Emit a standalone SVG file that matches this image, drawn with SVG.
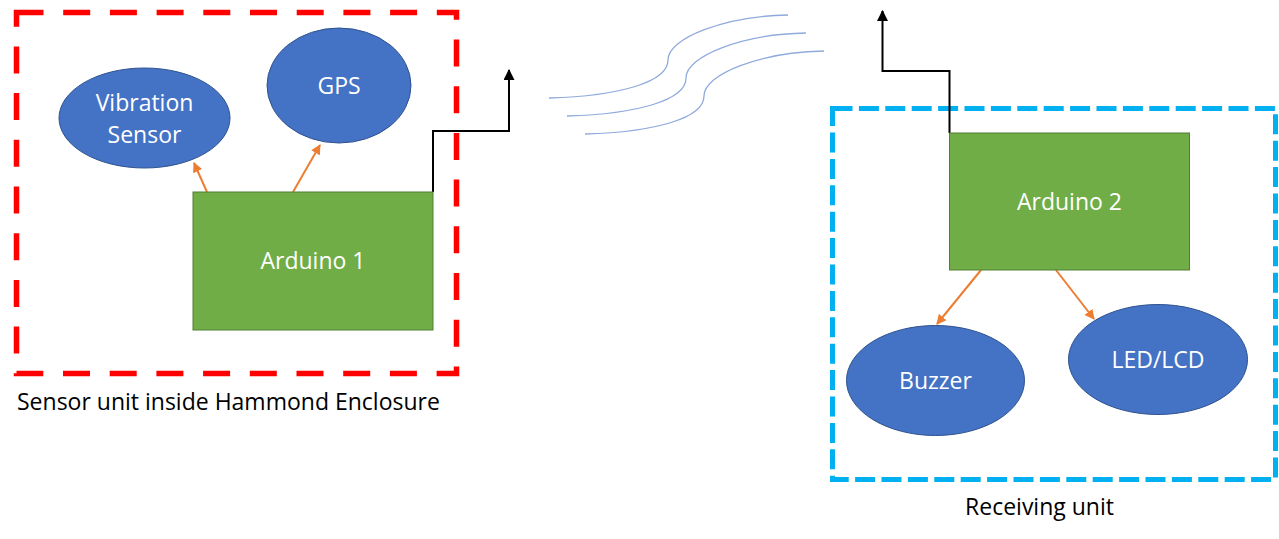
<svg xmlns="http://www.w3.org/2000/svg" width="1279" height="539" viewBox="0 0 1279 539">
<defs>
<style>
.lbl{font-family:"Open Sans","Liberation Sans",sans-serif;font-size:23px;fill:#ffffff;text-anchor:middle}
.cap{font-family:"Open Sans","Liberation Sans",sans-serif;font-size:23px;fill:#000000}
.ell{fill:#4472c4;stroke:#2f528f;stroke-width:1}
.box{fill:#70ad47;stroke:#507e32;stroke-width:1}
.orange{fill:none;stroke:#ed7d31;stroke-width:2}
.black{fill:none;stroke:#000000;stroke-width:2}
.wave{fill:none;stroke:#8faadc;stroke-width:1.3}
</style>
<marker id="ao" viewBox="0 0 10 10" refX="9" refY="5" markerWidth="5" markerHeight="5" orient="auto" markerUnits="strokeWidth">
<path d="M0,0 L10,5 L0,10 z" fill="#ed7d31"/>
</marker>
<marker id="ab" viewBox="0 0 10 10" refX="9" refY="5" markerWidth="5.5" markerHeight="5.5" orient="auto" markerUnits="strokeWidth">
<path d="M0,0 L10,5 L0,10 z" fill="#000000"/>
</marker>
</defs>
<rect width="1279" height="539" fill="#ffffff"/>
<g id="sensor-unit">
<rect x="16.5" y="12.5" width="440" height="361" fill="none" stroke="#ff0000" stroke-width="5.5" stroke-dasharray="27 19.7"/>
<text class="cap" x="17" y="410">Sensor unit inside Hammond Enclosure</text>
</g>
<g id="receiving-unit">
<rect x="832.5" y="108.5" width="443" height="371" fill="none" stroke="#00b0f0" stroke-width="5" stroke-dasharray="20 6.4"/>
<text class="cap" x="1039.5" y="515" text-anchor="middle">Receiving unit</text>
</g>
<g id="connectors">
<path class="wave" d="M549,98 C620,96 668,82 668,60 C668,38 725,16 788,15"/>
<path class="wave" d="M567,116 C638,114 686,100 686,78 C686,56 743,34 806,33"/>
<path class="wave" d="M585,134 C656,132 704,118 704,96 C704,74 761,52 824,51"/>
<path class="black" d="M433,192 V131 H509 V70" marker-end="url(#ab)"/>
<path class="black" d="M949.5,133 V71 H882.5 V11" marker-end="url(#ab)"/>
<line class="orange" x1="207" y1="192" x2="194" y2="163" marker-end="url(#ao)"/>
<line class="orange" x1="293" y1="192" x2="320" y2="145" marker-end="url(#ao)"/>
<line class="orange" x1="981" y1="270" x2="937" y2="324" marker-end="url(#ao)"/>
<line class="orange" x1="1056" y1="270" x2="1094" y2="319" marker-end="url(#ao)"/>
</g>
<g id="vibration-sensor">
<ellipse class="ell" cx="144.5" cy="118" rx="85.5" ry="50"/>
<text class="lbl" x="144.5" y="111">Vibration</text>
<text class="lbl" x="144.5" y="143">Sensor</text>
</g>
<g id="gps">
<ellipse class="ell" cx="339" cy="85.5" rx="72" ry="57.5"/>
<text class="lbl" x="339" y="94">GPS</text>
</g>
<g id="arduino1">
<rect class="box" x="193" y="192" width="240" height="138"/>
<text class="lbl" x="313" y="269">Arduino 1</text>
</g>
<g id="arduino2">
<rect class="box" x="949.5" y="133" width="240" height="137"/>
<text class="lbl" x="1069.5" y="210">Arduino 2</text>
</g>
<g id="buzzer">
<ellipse class="ell" cx="935.5" cy="380.5" rx="89" ry="55"/>
<text class="lbl" x="935.5" y="389">Buzzer</text>
</g>
<g id="led-lcd">
<ellipse class="ell" cx="1158" cy="359.5" rx="89.5" ry="55"/>
<text class="lbl" x="1158" y="368">LED/LCD</text>
</g>
</svg>
